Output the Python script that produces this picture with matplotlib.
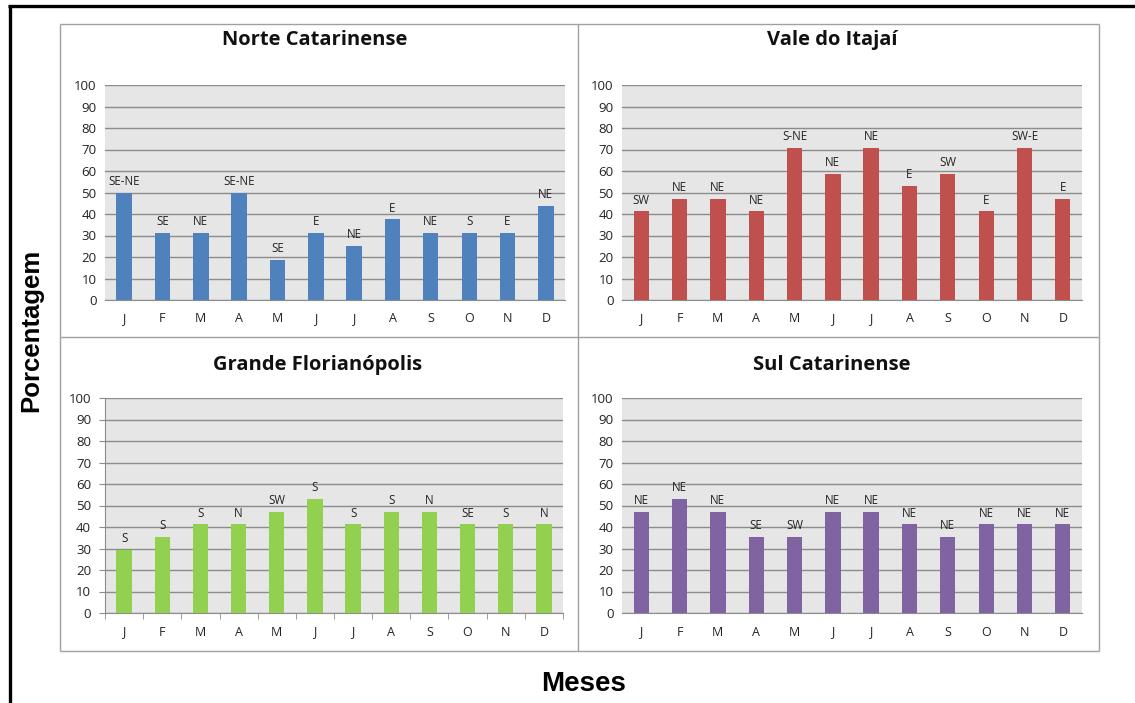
import matplotlib
matplotlib.use("Agg")
import matplotlib.pyplot as plt
from matplotlib.lines import Line2D

months = ["J", "F", "M", "A", "M", "J", "J", "A", "S", "O", "N", "D"]

norte_titulo = "Norte Catarinense"
norte_vals = [50, 31.25, 31.25, 50, 18.75, 31.25, 25, 37.5, 31.25, 31.25, 31.25, 43.75]
norte_dirs = ["SE-NE", "SE", "NE", "SE-NE", "SE", "E", "NE", "E", "NE", "S", "E", "NE"]

vale_titulo = "Vale do Itajaí"
vale_vals = [41.2, 47.1, 47.1, 41.2, 70.6, 58.8, 70.6, 52.9, 58.8, 41.2, 70.6, 47.1]
vale_dirs = ["SW", "NE", "NE", "NE", "S-NE", "NE", "NE", "E", "SW", "E", "SW-E", "E"]

flor_titulo = "Grande Florianópolis"
flor_vals = [29.4, 35.3, 41.2, 41.2, 47.1, 52.9, 41.2, 47.1, 47.1, 41.2, 41.2, 41.2]
flor_dirs = ["S", "S", "S", "N", "SW", "S", "S", "S", "N", "SE", "S", "N"]

sul_titulo = "Sul Catarinense"
sul_vals = [47.1, 52.9, 47.1, 35.3, 35.3, 47.1, 47.1, 41.2, 35.3, 41.2, 41.2, 41.2]
sul_dirs = ["NE", "NE", "NE", "SE", "SW", "NE", "NE", "NE", "NE", "NE", "NE", "NE"]

yticks = [0, 10, 20, 30, 40, 50, 60, 70, 80, 90, 100]

W, H = 1135, 703
fig = plt.figure(figsize=(W / 100, H / 100), dpi=100)
fig.patch.set_facecolor("white")

TICKFONT = ["Open Sans", "DejaVu Sans"]


def frac_rect(l, t, r, b):
    return [l / W, 1 - b / H, (r - l) / W, (b - t) / H]


def fline(x0, y0, x1, y1, color, lw):
    fig.add_artist(Line2D([x0 / W, x1 / W], [1 - y0 / H, 1 - y1 / H],
                          transform=fig.transFigure, color=color, lw=lw,
                          solid_capstyle="butt"))


# outer black frame (top and left)
fline(8, 5.5, W, 5.5, "black", 2.4)
fline(9.5, 5, 9.5, H, "black", 2.4)

# gray chart boxes
gc = "#a0a0a0"
fline(60, 24, 1099, 24, gc, 1.0)
fline(60, 651, 1099, 651, gc, 1.0)
fline(60, 24, 60, 651, gc, 1.0)
fline(1099, 24, 1099, 651, gc, 1.0)
fline(578, 24, 578, 651, gc, 1.0)
fline(60, 337, 1099, 337, gc, 1.0)

panels = [
    (norte_titulo, norte_vals, norte_dirs, "#4F81BD", (105, 85, 565, 300), (315, 40), False),
    (vale_titulo, vale_vals, vale_dirs, "#C0504D", (622, 85, 1082, 300), (832, 40), False),
    (flor_titulo, flor_vals, flor_dirs, "#92D050", (105, 398, 563, 613), (318, 365), True),
    (sul_titulo, sul_vals, sul_dirs, "#8064A2", (622, 398, 1082, 613), (832, 365), False),
]

for title, vals, dirs, color, rect, tpos, ticks in panels:
    ax = fig.add_axes(frac_rect(*rect))
    ax.set_facecolor("#E6E6E6")
    x = list(range(len(months)))
    ax.bar(x, vals, width=0.4, color=color, zorder=3)
    for xi, v, d in zip(x, vals, dirs):
        ax.annotate(d, (xi, v), xytext=(0, 3.5), textcoords="offset points",
                    ha="center", va="bottom", fontsize=8.3, family=TICKFONT,
                    color="#222222", zorder=4)
    ax.set_xlim(-0.5, len(months) - 0.5)
    ax.set_ylim(0, 100)
    ax.set_yticks(yticks)
    ax.set_xticks(x)
    ax.set_xticklabels(months)
    ax.yaxis.grid(True, color="#8c8c8c", lw=1.0, zorder=1)
    ax.set_axisbelow(True)
    for s in ["top", "right", "left"]:
        ax.spines[s].set_visible(False)
    ax.spines["bottom"].set_color("#8c8c8c")
    ax.spines["left"].set_color("#8c8c8c")
    if ticks:
        ax.spines["left"].set_visible(True)
        ax.tick_params(axis="y", length=4, color="#8c8c8c", direction="out")
        ax.set_xticks([i + 0.5 for i in range(-1, len(months))], minor=True)
        ax.tick_params(axis="x", which="minor", length=4, color="#8c8c8c")
        ax.tick_params(axis="x", which="major", length=0)
    else:
        ax.tick_params(axis="both", length=0)
    ax.tick_params(axis="y", pad=6, labelsize=9.5, labelcolor="#222222")
    ax.tick_params(axis="x", which="major", pad=9, labelsize=9, labelcolor="#222222")
    for lab in ax.get_xticklabels() + ax.get_yticklabels():
        lab.set_family(TICKFONT)
    fig.text(tpos[0] / W, 1 - tpos[1] / H, title, ha="center", va="center",
             fontsize=14.5, fontweight="bold", family=TICKFONT, color="#111111")

fig.text(31 / W, 1 - 330 / H, "Porcentagem", rotation=90, ha="center", va="center",
         fontsize=18.5, fontweight="bold", family=["Liberation Sans", "DejaVu Sans"])
fig.text(584 / W, 1 - 684 / H, "Meses", ha="center", va="center",
         fontsize=20, fontweight="bold", family=["Liberation Sans", "DejaVu Sans"])

fig.savefig("out.png", dpi=100, facecolor="white")
